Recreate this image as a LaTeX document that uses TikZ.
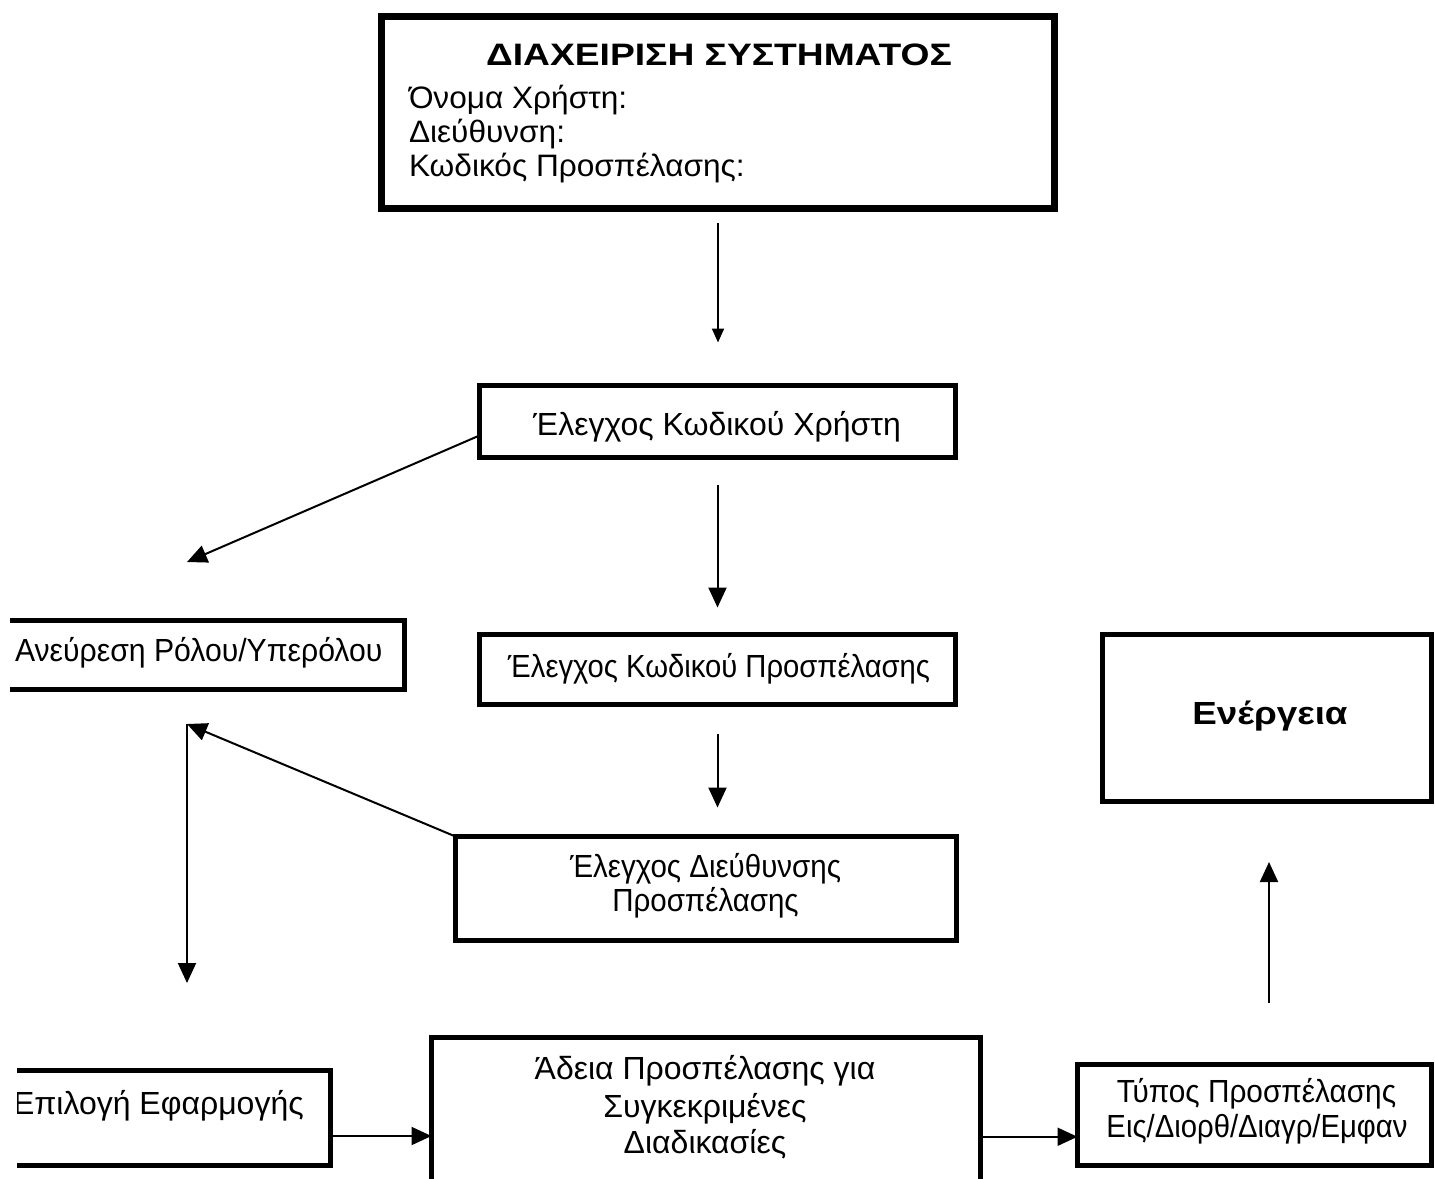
\documentclass[tikz,border=0pt]{standalone}
\usepackage{fontspec}
\setmainfont{Liberation Sans}
\usetikzlibrary{arrows.meta}
\begin{document}
\begin{tikzpicture}[x=1pt,y=-1pt,
  box/.style={draw=black, line width=5pt, inner sep=0pt, outer sep=0pt},
  bigbox/.style={box, line width=7pt},
  txt/.style={inner sep=0pt, outer sep=0pt, font=\fontsize{32}{36}\selectfont},
  toptxt/.style={inner sep=0pt, outer sep=0pt, font=\fontsize{31}{34}\selectfont},
  arr/.style={line width=2pt, -{Triangle[length=20pt,width=18pt]}},
  smallarr/.style={line width=2pt, -{Triangle[length=14pt,width=12pt]}}]
\useasboundingbox[fill=white] (0,0) rectangle (1435,1178);
\begin{scope}
\clip (0,0) rectangle (1435,1178);
% top box
\node[bigbox, minimum width=673pt, minimum height=192pt] (top) at (718,112.5) {};
\node[toptxt, font=\fontsize{31}{34}\selectfont\bfseries, anchor=base, xscale=1.2] (title) at (719,65) {ΔΙΑΧΕΙΡΙΣΗ ΣΥΣΤΗΜΑΤΟΣ};
\node[toptxt, anchor=base west, xscale=1.02] (l1) at (409,108) {Όνομα Χρήστη:};
\node[toptxt, anchor=base west, xscale=1.02] (l2) at (409,142) {Διεύθυνση:};
\node[toptxt, anchor=base west, xscale=1.02] (l3) at (409,176) {Κωδικός Προσπέλασης:};
% middle column
\node[box, minimum width=476pt, minimum height=72pt] (kx) at (717.5,421.5) {};
\node[txt, anchor=base] (kxt) at (717,435) {Έλεγχος Κωδικού Χρήστη};
\node[box, minimum width=476pt, minimum height=70pt] (kp) at (717.5,669.5) {};
\node[txt, anchor=base, xscale=0.913] (kpt) at (719,677) {Έλεγχος Κωδικού Προσπέλασης};
\node[box, minimum width=501pt, minimum height=104pt] (dp) at (706,888.5) {};
\node[txt, anchor=base, xscale=0.922] (dpt1) at (705.5,877) {Έλεγχος Διεύθυνσης};
\node[txt, anchor=base, xscale=0.922] (dpt2) at (705.5,911) {Προσπέλασης};
\node[box, minimum width=549pt, minimum height=162.5pt] (ad) at (706,1118.75) {};
\node[txt, anchor=base] (adt1) at (705,1079) {Άδεια Προσπέλασης για};
\node[txt, anchor=base] (adt2) at (705,1117) {Συγκεκριμένες};
\node[txt, anchor=base] (adt3) at (705,1153) {Διαδικασίες};
% right column
\node[box, minimum width=329pt, minimum height=167pt] (en) at (1267,718) {};
\node[txt, font=\fontsize{32}{36}\selectfont\bfseries, anchor=base, xscale=1.15] (ent) at (1270,724) {Ενέργεια};
\node[box, minimum width=354pt, minimum height=101pt] (tp) at (1254.5,1115) {};
\node[txt, anchor=base, xscale=0.93] (tpt1) at (1256.5,1102) {Τύπος Προσπέλασης};
\node[txt, anchor=base, xscale=0.915] (tpt2) at (1257,1137) {Εις/Διορθ/Διαγρ/Εμφαν};
\end{scope}
% left column (cut by the page edge)
\begin{scope}
\clip (10,0) rectangle (1435,1178);
\node[box, minimum width=424.5pt, minimum height=69pt] (ar) at (192.25,655) {};
\node[txt, anchor=base west, xscale=0.943] (art) at (15,661) {Ανεύρεση Ρόλου/Υπερόλου};
\end{scope}
\begin{scope}
\clip (17,0) rectangle (1435,1178);
\node[box, minimum width=350.5pt, minimum height=95pt] (ep) at (155.25,1118) {};
\node[txt, anchor=base west] (ept) at (13,1114) {Επιλογή Εφαρμογής};
\end{scope}
% free connector ends
\coordinate (arIn) at (187,562);
\coordinate (arOut) at (187,724);
\coordinate (epIn) at (187,983);
\coordinate (enIn) at (1269,862);
\coordinate (tpOut) at (1269,1003);
% connectors
\draw[smallarr, shorten <=14pt, shorten >=43pt] (top.south) -- (top.south |- kx.north);
\draw[arr] ([yshift=-14pt]kx.west) -- (arIn);
\draw[arr, shorten <=27pt, shorten >=27pt] (kx.south) -- (kp.north);
\draw[arr, shorten <=29pt, shorten >=29pt] (kp.south) -- (kp.south |- dp.north);
\draw[arr] (dp.north west) -- (arOut);
\draw[arr] (arOut) -- (epIn);
\draw[arr] (tpOut) -- (enIn);
\draw[arr] ([yshift=-18pt]ep.east) -- ([yshift=-18pt]ep.east -| ad.west);
\draw[arr] ([yshift=-18pt]ad.east) -- ([yshift=-18pt]ad.east -| tp.west);
\end{tikzpicture}
\end{document}
